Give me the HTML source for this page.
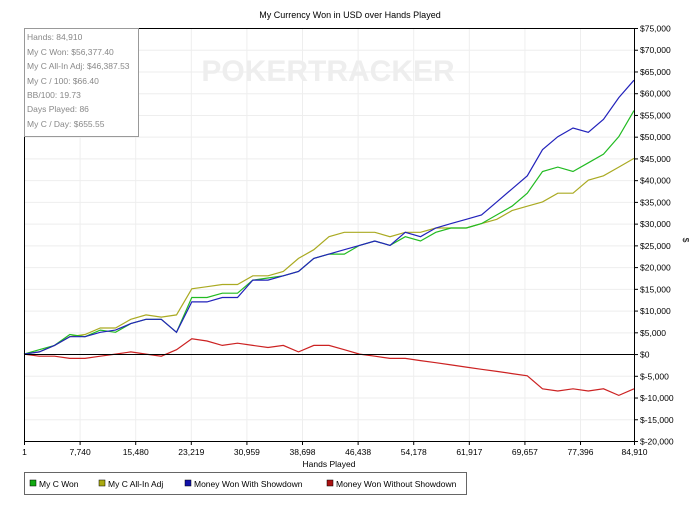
<!DOCTYPE html>
<html><head><meta charset="utf-8"><style>
body{margin:0;background:#fff;font-family:"Liberation Sans",sans-serif}
svg text{font-family:"Liberation Sans",sans-serif}
</style></head><body>
<svg id="c" width="700" height="500">
<text x="350" y="18" font-size="9" text-anchor="middle">My Currency Won in USD over Hands Played</text>
<text x="328" y="81" font-size="30" font-weight="bold" fill="#eeeeee" text-anchor="middle">POKERTRACKER</text>
<g id="grid"></g><g id="series"></g><g id="axes"></g>
<text x="683" y="240" font-size="8.5" text-anchor="middle" transform="rotate(90 683 240)">$</text>
<text x="329" y="467" font-size="8.5" text-anchor="middle">Hands Played</text>
<g>
<rect x="24.5" y="28.5" width="114" height="108" fill="#fff" stroke="#999"/>
<g font-size="8.5" fill="#888">
<text x="27" y="40">Hands: 84,910</text>
<text x="27" y="55">My C Won: $56,377.40</text>
<text x="27" y="69">My C All-In Adj: $46,387.53</text>
<text x="27" y="84">My C / 100: $66.40</text>
<text x="27" y="98">BB/100: 19.73</text>
<text x="27" y="112">Days Played: 86</text>
<text x="27" y="127">My C / Day: $655.55</text>
</g></g>
<g font-size="8.5">
<rect x="24.5" y="472.5" width="442" height="22" fill="#fff" stroke="#666"/>
<g><rect x="30" y="480" width="6" height="6" fill="#1a1" stroke="#000" stroke-width="0.5"/><text x="39" y="487">My C Won</text></g>
<g><rect x="99" y="480" width="6" height="6" fill="#aa1" stroke="#000" stroke-width="0.5"/><text x="108" y="487">My C All-In Adj</text></g>
<g><rect x="185" y="480" width="6" height="6" fill="#11a" stroke="#000" stroke-width="0.5"/><text x="194" y="487">Money Won With Showdown</text></g>
<g><rect x="327" y="480" width="6" height="6" fill="#a11" stroke="#000" stroke-width="0.5"/><text x="336" y="487">Money Won Without Showdown</text></g>
</g>
</svg>
<script>
const xTickLabels=["1","7,740","15,480","23,219","30,959","38,698","46,438","54,178","61,917","69,657","77,396","84,910"];
const xTickValues=[1,7740,15480,23219,30959,38698,46438,54178,61917,69657,77396,84910];
const yTickValues=[75000,70000,65000,60000,55000,50000,45000,40000,35000,30000,25000,20000,15000,10000,5000,0,-5000,-10000,-15000,-20000];
const maxHands=84910;
const myCWon=[0,1,2,4.5,4,5.5,5,7,8,8,5,13,13,14,14,17,17.5,18,19,22,23,23,25,26,25,27,26,28,29,29,30,32,34,37,42,43,42,44,46,50,56];
const allInAdj=[0,0.5,2,4,4.5,6,6,8,9,8.5,9,15,15.5,16,16,18,18,19,22,24,27,28,28,28,27,28,28,29,29,29,30,31,33,34,35,37,37,40,41,43,45];
const withShowdown=[0,0.5,2,4,4,5,5.5,7,8,8,5,12,12,13,13,17,17,18,19,22,23,24,25,26,25,28,27,29,30,31,32,35,38,41,47,50,52,51,54,59,63];
const withoutShowdown=[0,-0.5,-0.5,-1,-1,-0.5,0,0.5,0,-0.5,1,3.5,3,2,2.5,2,1.5,2,0.5,2,2,1,0,-0.5,-1,-1,-1.5,-2,-2.5,-3,-3.5,-4,-4.5,-5,-8,-8.5,-8,-8.5,-8,-9.5,-8];
const X0=24,X1=634,Y0=28,Y1=441;
const xs=h=>X0+(h/maxHands)*(X1-X0);
const ys=v=>Y0+(75000-v)/95000*(Y1-Y0);
const NS="http://www.w3.org/2000/svg";
function mk(t,a,p){const e=document.createElementNS(NS,t);for(const k in a)e.setAttribute(k,a[k]);p.appendChild(e);return e;}
const grid=document.getElementById('grid'),axes=document.getElementById('axes'),ser=document.getElementById('series');
yTickValues.forEach(v=>{
 const g=mk('line',{x1:X0,x2:X1,y1:ys(v)+0.5,y2:ys(v)+0.5,stroke:'#eee'},grid);
 
 
 mk('line',{x1:X1,x2:X1+4,y1:ys(v)+0.5,y2:ys(v)+0.5,stroke:'#000'},axes);
 const t=mk('text',{x:X1+6,y:ys(v)+3.5,'font-size':'8.5'},axes);
 t.textContent=(v<0?'$-':'$')+Math.abs(v).toLocaleString('en-US');
 
 
});
xTickValues.forEach((v,i)=>{
 const x=xs(v)+0.5;
 const g=mk('line',{x1:x,x2:x,y1:Y0,y2:Y1,stroke:'#eee'},grid);
 
 
 mk('line',{x1:x,x2:x,y1:Y1,y2:Y1+4,stroke:'#000'},axes);
 const t=mk('text',{x:x,y:Y1+14,'font-size':'8.5','text-anchor':'middle'},axes);
 t.textContent=xTickLabels[i];
 
 
});
mk('line',{x1:X0,x2:X1,y1:Y0+0.5,y2:Y0+0.5,stroke:'#000'},axes);
mk('line',{x1:X0,x2:X1,y1:Y1+0.5,y2:Y1+0.5,stroke:'#000'},axes);
mk('line',{x1:X0+0.5,x2:X0+0.5,y1:Y0,y2:Y1,stroke:'#000'},axes);
mk('line',{x1:X1+0.5,x2:X1+0.5,y1:Y0,y2:Y1,stroke:'#000'},axes);
mk('line',{x1:X0,x2:X1,y1:ys(0)+0.5,y2:ys(0)+0.5,stroke:'#000'},axes);
function draw(arr,col,name){
 const n=arr.length-1;
 const pts=arr.map((v,i)=>xs(i/n*maxHands).toFixed(1)+','+ys(v*1000).toFixed(1)).join(' ');
 const p=mk('polyline',{points:pts,fill:'none',stroke:col,'stroke-width':'1.2'},ser);
 
 
}
draw(withoutShowdown,'#c22','line-without-showdown');
draw(allInAdj,'#aa2','line-all-in-adj');
draw(myCWon,'#2b2','line-my-c-won');
draw(withShowdown,'#22b','line-with-showdown');
</script>
</body></html>
